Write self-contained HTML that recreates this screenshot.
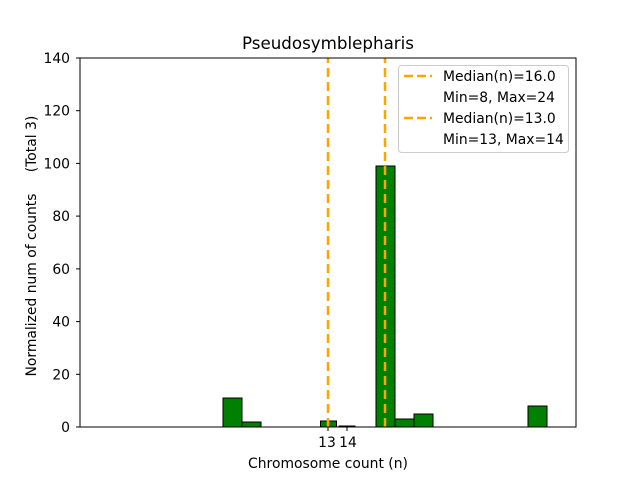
<!DOCTYPE html>
<html><head><style>body{margin:0;background:#fff}svg{display:block}text{font-family:"DejaVu Sans","Liberation Sans",sans-serif;fill:#000}</style></head>
<body>
<svg width="640" height="480" viewBox="0 0 640 480" xmlns="http://www.w3.org/2000/svg">
<rect width="640" height="480" fill="#fff"/>
<g fill="#008000" stroke="#000" stroke-width="1">
<rect x="223" y="398" width="19" height="29"/>
<rect x="242" y="422" width="19" height="5"/>
<rect x="320.5" y="421" width="16" height="6"/>
<rect x="339" y="426" width="16" height="1"/>
<rect x="376" y="166" width="19" height="261"/>
<rect x="395" y="419" width="19" height="8"/>
<rect x="414" y="414" width="19" height="13"/>
<rect x="528" y="406" width="19" height="21"/>
</g>
<line x1="328" y1="427" x2="328" y2="58" stroke="#FFA500" stroke-width="2.5" stroke-dasharray="9,5"/>
<line x1="385" y1="427" x2="385" y2="58" stroke="#FFA500" stroke-width="2.5" stroke-dasharray="9,5"/>
<rect x="80" y="58" width="496" height="369" fill="none" stroke="#000" stroke-width="1"/>
<g stroke="#000" stroke-width="1">
<line x1="76" y1="427" x2="80" y2="427"/><line x1="76" y1="374.3" x2="80" y2="374.3"/>
<line x1="76" y1="321.6" x2="80" y2="321.6"/><line x1="76" y1="268.9" x2="80" y2="268.9"/>
<line x1="76" y1="216.1" x2="80" y2="216.1"/><line x1="76" y1="163.4" x2="80" y2="163.4"/>
<line x1="76" y1="110.7" x2="80" y2="110.7"/><line x1="76" y1="58" x2="80" y2="58"/>
<line x1="328" y1="427" x2="328" y2="431"/><line x1="347" y1="427" x2="347" y2="431"/>
</g>
<g font-size="13.9" text-anchor="end">
<text x="70" y="432">0</text><text x="70" y="379.3">20</text><text x="70" y="326.6">40</text>
<text x="70" y="273.9">60</text><text x="70" y="221.1">80</text><text x="70" y="168.4">100</text>
<text x="70" y="115.7">120</text><text x="70" y="63">140</text>
</g>
<g font-size="13.9" text-anchor="middle">
<text x="327" y="447">13</text><text x="348" y="447">14</text>
<text x="328" y="468">Chromosome count (n)</text>
</g>
<text x="328" y="49" font-size="16.7" text-anchor="middle">Pseudosymblepharis</text>
<text transform="translate(36,285) rotate(-90)" font-size="13.9" text-anchor="middle">Normalized num of counts</text>
<text transform="translate(36,144) rotate(-90)" font-size="13.9" text-anchor="middle">(Total 3)</text>
<rect x="398.5" y="65.5" width="170" height="87" rx="3" fill="#fff" fill-opacity="0.8" stroke="#ccc"/>
<line x1="404" y1="76" x2="432" y2="76" stroke="#FFA500" stroke-width="2.5" stroke-dasharray="9,4"/>
<line x1="404" y1="118" x2="432" y2="118" stroke="#FFA500" stroke-width="2.5" stroke-dasharray="9,4"/>
<g font-size="13.9">
<text x="443" y="81">Median(n)=16.0</text><text x="443" y="102">Min=8, Max=24</text>
<text x="443" y="123">Median(n)=13.0</text><text x="443" y="144">Min=13, Max=14</text>
</g>
</svg>
</body></html>
